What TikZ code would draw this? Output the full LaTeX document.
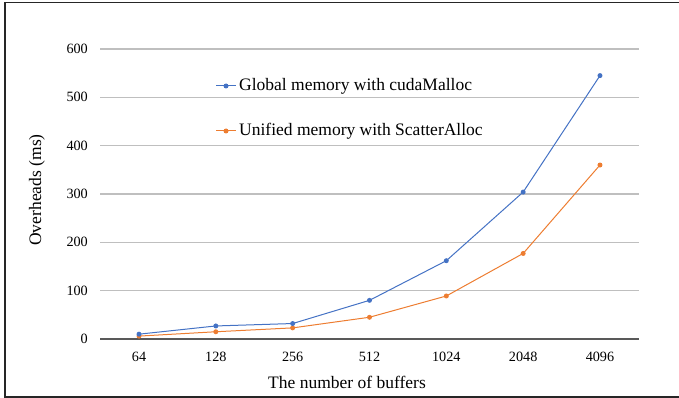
\documentclass[tikz,border=0pt]{standalone}
\usepackage{fontspec}
\setmainfont{Liberation Serif}
\definecolor{serA}{HTML}{4472C4}
\definecolor{serB}{HTML}{ED7D31}
\definecolor{gridc}{HTML}{BFBFBF}
\definecolor{axisc}{HTML}{595959}
\begin{document}
\begin{tikzpicture}[x=1pt,y=-1pt,
  gridline/.style={gridc,line width=1.2pt},
  axisline/.style={axisc,line width=1.2pt},
  ticklbl/.style={font=\fontsize{14.2}{16}\selectfont,text=black,inner sep=0pt},
  titlelbl/.style={font=\fontsize{17.5}{20}\selectfont,text=black,inner sep=0pt},
  legendlbl/.style={font=\fontsize{17.5}{20}\selectfont,text=black,inner sep=0pt,anchor=west},
  serAline/.style={serA,line width=1pt},
  serBline/.style={serB,line width=1pt},
  dotA/.style={circle,fill=serA,inner sep=0pt,minimum size=5pt},
  dotB/.style={circle,fill=serB,inner sep=0pt,minimum size=5pt}]
\useasboundingbox (0,0) rectangle (679,398);
\begin{scope}
\clip (0,0) rectangle (679,398);
\draw[black!85,line width=1.2pt] (690,2.5) -- (5,2.5) -- (5,397) -- (690,397);
\end{scope}
% grid
\foreach \v in {100,200,300,400,500,600}{
  \draw[gridline] (100,{339-\v*0.4833}) -- (639,{339-\v*0.4833});
}
\foreach \v in {0,100,200,300,400,500,600}{
  \node[ticklbl,anchor=east] (y\v) at (88,{339-\v*0.4833}) {\v};
}
\draw[axisline] (100,339) -- (639,339);
% x labels
\foreach \c [count=\i from 0] in {64,128,256,512,1024,2048,4096}{
  \node[ticklbl] (x\c) at ({139+\i*76.83},357) {\c};
}
\node[titlelbl] (xt) at (347,382) {The number of buffers};
\node[titlelbl,rotate=90] (yt) at (37,190) {Overheads (ms)};
% data
\foreach \v [count=\i from 0] in {10,27,32,80,162,304,545}{
  \coordinate (a\i) at ({139+\i*76.83},{339-\v*0.4833});
}
\foreach \v [count=\i from 0] in {6,15,23,45,89,177,360}{
  \coordinate (b\i) at ({139+\i*76.83},{339-\v*0.4833});
}
\draw[serBline] (b0) -- (b1) -- (b2) -- (b3) -- (b4) -- (b5) -- (b6);
\draw[serAline] (a0) -- (a1) -- (a2) -- (a3) -- (a4) -- (a5) -- (a6);
\foreach \i in {0,...,6}{
  \node[dotB] (pb\i) at (b\i) {};
  \node[dotA] (pa\i) at (a\i) {};
}
% legend
\coordinate (la1) at (216,86);
\coordinate (la2) at (236,86);
\draw[serAline] (la1) -- (la2);
\node[dotA] (lad) at (226,86) {};
\node[legendlbl] (lat) at (239,86) {Global memory with cudaMalloc};
\coordinate (lb1) at (216,131);
\coordinate (lb2) at (236,131);
\draw[serBline] (lb1) -- (lb2);
\node[dotB] (lbd) at (226,131) {};
\node[legendlbl] (lbt) at (239,131) {Unified memory with ScatterAlloc};
\end{tikzpicture}
\end{document}
